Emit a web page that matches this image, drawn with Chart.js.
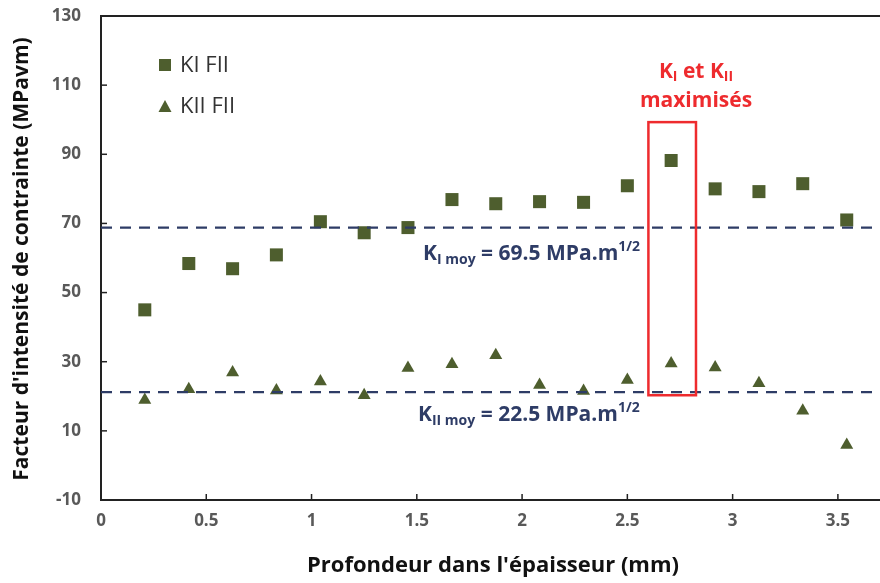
<!DOCTYPE html>
<html>
<head>
<meta charset="utf-8">
<script src="https://cdn.jsdelivr.net/npm/chart.js@4.4.1/dist/chart.umd.min.js"></script>
<style>
html,body{margin:0;padding:0;background:#fff;}
#wrap{width:880px;height:583px;position:relative;}
</style>
</head>
<body>
<div id="wrap"><canvas id="c" width="880" height="583"></canvas></div>
<script>
// ---- data ----
const depthMm = [0.208,0.417,0.625,0.833,1.042,1.25,1.458,1.667,1.875,2.083,2.292,2.5,2.708,2.917,3.125,3.333,3.542];
const kiFII  = [45.0,58.4,56.9,60.9,70.5,67.3,68.8,76.9,75.7,76.3,76.1,80.9,88.2,80.0,79.2,81.5,71.0];
const kiiFII = [18.9,22.0,26.9,21.7,24.3,20.3,28.2,29.3,31.9,23.3,21.5,24.7,29.5,28.3,23.8,15.8,5.9];
const seriesNames = ['KI FII','KII FII'];
const meanLevels = [68.8, 21.2];           // dashed lines (as drawn)
const meanLabels = ['69.5','22.5'];
const highlightBox = {x0:2.6, x1:2.826, y0:20.3, y1:99.3};
const xTicks = [0,0.5,1,1.5,2,2.5,3,3.5];
const yTicks = [-10,10,30,50,70,90,110,130];

const FONT = "'Open Sans', 'Noto Sans', sans-serif";
const MARK = '#4E5E2E';
const NAVY = '#2E3C66';
const RED = '#EE2B2E';

function mkLine(v){ return {type:'line', data:[{x:0,y:v},{x:3.7,y:v}], borderColor:NAVY, borderWidth:2.2, borderDash:[11,8], pointRadius:0, fill:false, order:0}; }

const overlay = {
  id:'overlay',
  afterDraw(chart){
    const ctx = chart.ctx, a = chart.chartArea, xs = chart.scales.x, ys = chart.scales.y;
    ctx.save();
    // top border
    ctx.strokeStyle = '#222'; ctx.lineWidth = 2;
    ctx.beginPath(); ctx.moveTo(a.left-1, a.top); ctx.lineTo(a.right, a.top); ctx.stroke();
    // inner tick marks
    ctx.lineWidth = 1.5;
    yTicks.forEach(v=>{ if(v===-10||v===130) return; const p=ys.getPixelForValue(v); ctx.beginPath(); ctx.moveTo(a.left, p); ctx.lineTo(a.left+6, p); ctx.stroke(); });
    xTicks.forEach(v=>{ if(v===0) return; const p=xs.getPixelForValue(v); ctx.beginPath(); ctx.moveTo(p, a.bottom); ctx.lineTo(p, a.bottom-6); ctx.stroke(); });
    // highlight box
    ctx.strokeStyle = RED; ctx.lineWidth = 2.5;
    const bx0=xs.getPixelForValue(highlightBox.x0), bx1=xs.getPixelForValue(highlightBox.x1);
    const by0=ys.getPixelForValue(highlightBox.y1), by1=ys.getPixelForValue(highlightBox.y0);
    ctx.strokeRect(bx0, by0, bx1-bx0, by1-by0);
    // red label
    ctx.fillStyle = RED; ctx.textBaseline='alphabetic';
    const big = 'bold 21px '+FONT, small = 'bold 14px '+FONT;
    function segWidth(segs){ let w=0; segs.forEach(s=>{ctx.font=s[1]; w+=ctx.measureText(s[0]).width;}); return w; }
    function drawSegs(segs, x, y){ segs.forEach(s=>{ ctx.font=s[1]; ctx.fillText(s[0], x, y+(s[2]||0)); x+=ctx.measureText(s[0]).width; }); }
    const cx = 696;
    let segs = [['K',big],['I',small,3],[' et K',big],['II',small,3]];
    drawSegs(segs, cx - segWidth(segs)/2, 78);
    ctx.font = big; ctx.textAlign='center'; ctx.fillText('maximisés', cx, 107); ctx.textAlign='left';
    // mean labels
    ctx.fillStyle = NAVY;
    const big2='bold 21px '+FONT, small2='bold 14px '+FONT;
    drawSegs([['K',big2],['I moy',small2,4],[' = '+meanLabels[0]+' MPa.m',big2],['1/2',small2,-9]], 423, 260);
    drawSegs([['K',big2],['II moy',small2,4],[' = '+meanLabels[1]+' MPa.m',big2],['1/2',small2,-9]], 418, 421);
    // legend
    ctx.fillStyle = MARK;
    ctx.fillRect(159, 59, 12, 12);
    ctx.beginPath(); ctx.moveTo(165, 100); ctx.lineTo(171.5, 112); ctx.lineTo(158.5, 112); ctx.closePath(); ctx.fill();
    ctx.fillStyle = '#333'; ctx.font = '22px '+FONT; ctx.textBaseline='middle';
    ctx.fillText(seriesNames[0], 180, 66);
    ctx.fillText(seriesNames[1], 180, 107);
    // axis titles
    ctx.fillStyle = '#111'; ctx.font = 'bold 22px '+FONT; ctx.textAlign='center'; ctx.textBaseline='middle';
    ctx.fillText("Profondeur dans l'épaisseur (mm)", 493, 566);
    ctx.font = 'bold 21px '+FONT;
    ctx.translate(22, 259); ctx.rotate(-Math.PI/2);
    ctx.fillText("Facteur d'intensité de contrainte (MPavm)", 0, 0);
    ctx.restore();
  }
};

new Chart(document.getElementById('c'), {
  type:'scatter',
  data:{
    datasets:[
      {label:seriesNames[0], data:depthMm.map((x,i)=>({x, y:kiFII[i]})), pointStyle:'rect', pointRadius:9.2, backgroundColor:MARK, borderColor:MARK, borderWidth:0, order:1},
      {label:seriesNames[1], data:depthMm.map((x,i)=>({x, y:kiiFII[i]})), pointStyle:'triangle', pointRadius:7.5, backgroundColor:MARK, borderColor:MARK, borderWidth:0, order:1},
      mkLine(meanLevels[0]), mkLine(meanLevels[1])
    ]
  },
  options:{
    responsive:false, animation:false, devicePixelRatio:1,
    layout:{autoPadding:false, padding:{top:16,right:0,left:0,bottom:0}},
    plugins:{legend:{display:false}, tooltip:{enabled:false}},
    scales:{
      x:{type:'linear', min:0, max:3.7,
        afterBuildTicks(s){ s.ticks = xTicks.map(v=>({value:v})); },
        afterFit(s){ s.height = 83; s.paddingLeft = 0; s.paddingRight = 0; },
        grid:{display:false, drawTicks:false},
        border:{display:true, color:'#222', width:2},
        ticks:{color:'#595959', font:{family:FONT, size:17, weight:'bold'}, padding:11, maxRotation:0, autoSkip:false,
          callback:(v)=>String(v)}
      },
      y:{min:-10, max:130,
        afterBuildTicks(s){ s.ticks = yTicks.map(v=>({value:v})); },
        afterFit(s){ s.width = 101; s.paddingTop = 0; s.paddingBottom = 0; },
        grid:{display:false, drawTicks:false},
        border:{display:true, color:'#222', width:2},
        ticks:{color:'#595959', font:{family:FONT, size:17, weight:'bold'}, padding:20, autoSkip:false}
      }
    }
  },
  plugins:[overlay]
});
</script>
</body>
</html>
